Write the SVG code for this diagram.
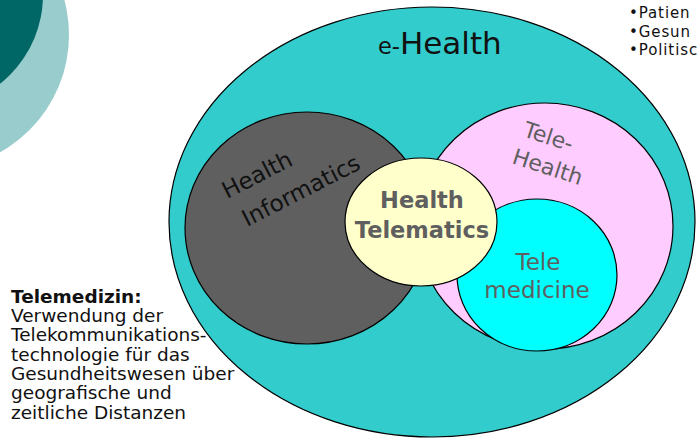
<svg xmlns="http://www.w3.org/2000/svg" width="697" height="438" viewBox="0 0 697 438">
  <style>
    text { font-family: "DejaVu Sans", Verdana, sans-serif; }
    .shape { stroke: #000; stroke-width: 1.2; }
    .dark { fill: #111; }
    .grey { fill: #5f5f5f; }
    .bold { font-weight: bold; }
    .note { font-size: 18.5px; fill: #111; }
  </style>

  <!-- corner decoration -->
  <g id="corner">
    <circle cx="-65" cy="35" r="134" fill="#99cccc"/>
    <circle cx="-70" cy="-5" r="113" fill="#006666"/>
  </g>

  <!-- outer domain -->
  <g id="ehealth">
    <ellipse class="shape" cx="432" cy="222" rx="263" ry="215" fill="#33cccc"/>
    <text x="378" y="54" class="dark" font-size="22.5">e-<tspan font-size="31">Health</tspan></text>
  </g>

  <g id="health-informatics">
    <ellipse class="shape" cx="307" cy="228" rx="122" ry="116" fill="#5f5f5f"/>
    <text class="dark" font-size="23" transform="translate(227,199) rotate(-27)">Health</text>
    <text class="dark" font-size="23" transform="translate(247,227) rotate(-27)">Informatics</text>
  </g>

  <g id="tele-health">
    <ellipse class="shape" cx="545" cy="226" rx="128" ry="123" fill="#ffccff"/>
    <text class="grey" font-size="22" transform="translate(522,136) rotate(18)">Tele-</text>
    <text class="grey" font-size="22" transform="translate(511,163) rotate(18)">Health</text>
  </g>

  <g id="tele-medicine">
    <ellipse class="shape" cx="537" cy="275" rx="80" ry="76" fill="#00ffff"/>
    <text class="grey" font-size="23" text-anchor="middle" x="538" y="270">Tele</text>
    <text class="grey" font-size="23" text-anchor="middle" x="537" y="298">medicine</text>
  </g>

  <g id="health-telematics">
    <ellipse class="shape" cx="421" cy="222" rx="76" ry="64" fill="#ffffcc"/>
    <text class="grey bold" font-size="22.5" text-anchor="middle" x="422" y="208">Health</text>
    <text class="grey bold" font-size="22.5" text-anchor="middle" x="422" y="238">Telematics</text>
  </g>

  <g id="connectors"/>

  <!-- definition block -->
  <g id="definition">
    <text class="note bold" x="11" y="303">Telemedizin:</text>
    <text class="note" x="11" y="322">Verwendung der</text>
    <text class="note" x="11" y="341">Telekommunikations-</text>
    <text class="note" x="11" y="361">technologie für das</text>
    <text class="note" x="11" y="380">Gesundheitswesen über</text>
    <text class="note" x="11" y="399">geografische und</text>
    <text class="note" x="11" y="419">zeitliche Distanzen</text>
  </g>

  <!-- bullet list at the top edge -->
  <g id="bullets" font-size="15" fill="#111" letter-spacing="0.9">
    <text x="629" y="18">•Patien</text>
    <text x="629" y="37">•Gesun</text>
    <text x="629" y="55">•Politisc</text>
  </g>
</svg>
